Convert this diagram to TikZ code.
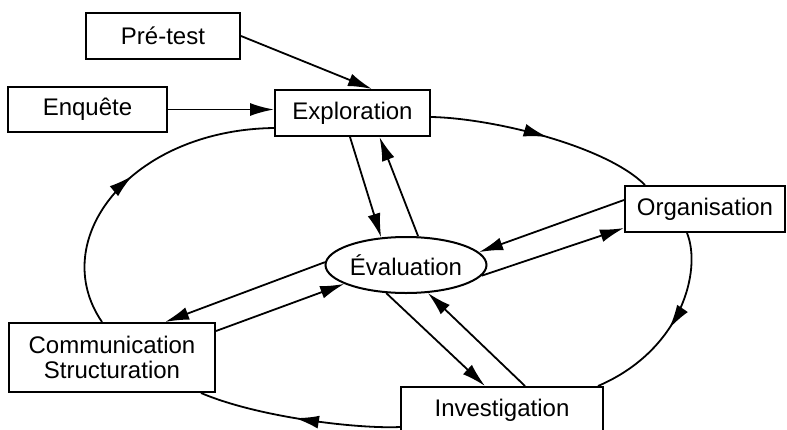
\documentclass[tikz,border=0pt]{standalone}
\usepackage{fontspec}
\setmainfont{Liberation Sans}
\usetikzlibrary{arrows.meta,calc,shapes.geometric,decorations.markings}
\begin{document}
\begin{tikzpicture}[x=0.5pt,y=-0.5pt,
  font=\fontsize{12}{12.5}\selectfont,
  box/.style={draw,line width=1pt,inner sep=0pt,align=center},
  conn/.style={line width=0.9pt,-{Latex[length=12pt,width=6.5pt]}},
  flow/.style={line width=0.9pt,postaction={decorate},decoration={markings,mark=at position #1 with {\arrow{Latex[length=12pt,width=6.5pt]}}}},
  flow/.default=0.52
]
\useasboundingbox (0,0) rectangle (787,429);
\clip (0,0) rectangle (787,429);

\node[box,minimum width=77pt,minimum height=23pt] (pretest) at (163,36) {Pré-test};
\node[box,minimum width=79.5pt,minimum height=22.5pt] (enquete) at (87.5,109.5) {Enquête};
\node[box,minimum width=77.5pt,minimum height=23pt] (explo) at (352.5,113) {Exploration};
\node[box,minimum width=80pt,minimum height=23pt] (orga) at (705,209) {Organisation};
\node[box,ellipse,minimum width=80.5pt,minimum height=28pt] (evalu) at (406,265) {Évaluation};
\node[box,minimum width=103pt,minimum height=34.5pt] (comm) at (112,357.5) {Communication\\Structuration};
\node[box,minimum width=101pt,minimum height=23pt] (invest) at (502,410) {Investigation};

\draw[conn] (pretest.east) -- ($(explo.north)+(19.5,0)$);
\draw[conn] (enquete.east) -- (enquete.east -| explo.west);
\draw[conn] ($(explo.south)+(-2.5,0)$) -- (evalu.132);
\draw[conn] (evalu.67) -- ($(explo.south)+(27,0)$);
\draw[conn] ($(orga.west)+(0,-9)$) -- (evalu.10);
\draw[conn] (evalu.-8) -- ($(orga.south west)+(0,-5)$);
\draw[conn] (evalu.178) -- ($(comm.north)+(53,0)$);
\draw[conn] ($(comm.north east)+(0,9)$) -- (evalu.197);
\draw[conn] (evalu.235) -- ($(invest.north)+(-17,0)$);
\draw[conn] ($(invest.north)+(23,0)$) -- (evalu.-52);

\draw[flow] ($(explo.east)+(0,4)$) .. controls (490,118) and (605,145) .. ($(orga.north)+(-60,0)$);
\draw[flow] ($(orga.south)+(-18,0)$) .. controls (702,270) and (682,350) .. ($(invest.north east)+(-6,0)$);
\draw[flow] ($(invest.west)+(0,17)$) .. controls (360,429) and (260,418) .. ($(comm.south east)+(-15,0)$);
\draw[flow] ($(comm.north west)+(94,0)$) .. controls (46,240) and (130,130) .. ($(explo.south west)+(0,-9)$);
\end{tikzpicture}
\end{document}
